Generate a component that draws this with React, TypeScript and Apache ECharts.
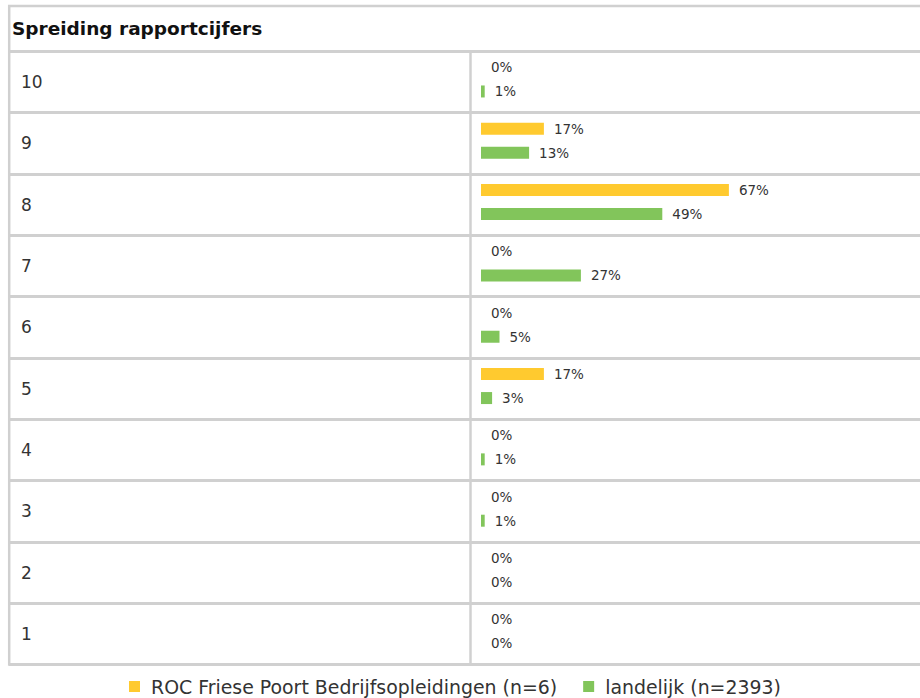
import React, { useEffect, useRef } from "react";
import * as echarts from "echarts";

const categories = ["10", "9", "8", "7", "6", "5", "4", "3", "2", "1"];
const rocValues = [0, 17, 67, 0, 0, 17, 0, 0, 0, 0];
const landelijkValues = [1, 13, 49, 27, 5, 3, 1, 1, 0, 0];
const seriesNames = ["ROC Friese Poort Bedrijfsopleidingen (n=6)", "landelijk (n=2393)"];
const title = "Spreiding rapportcijfers";

const FONT = "DejaVu Sans";
const LINE = "#d0d0d0";

export default function App() {
  const ref = useRef<HTMLDivElement>(null);
  useEffect(() => {
    if (!ref.current) return;
    const chart = echarts.init(ref.current, null, { renderer: "svg" });
    const label = {
      show: true,
      position: "right",
      distance: 10,
      formatter: "{c}%",
      fontFamily: FONT,
      fontSize: 13.5,
      color: "#333",
    };
    chart.setOption({
      animation: false,
      backgroundColor: "#fff",
      textStyle: { fontFamily: FONT },
      legend: {
        data: seriesNames,
        left: 129,
        top: 677,
        padding: 0,
        itemWidth: 11,
        itemHeight: 11,
        itemGap: 26,
        icon: "rect",
        textStyle: {
          fontFamily: FONT,
          fontSize: 18.9,
          lineHeight: 19,
          color: "#333",
          padding: [0, 0, 0, 6],
        },
      },
      grid: [
        { left: 9, right: 0, top: 51.3, bottom: 33.5 },
        { left: 481, width: 370, top: 48.8, bottom: 36 },
      ],
      xAxis: [
        { gridIndex: 0, type: "value", min: 0, max: 1, show: false },
        { gridIndex: 1, type: "value", min: 0, max: 100, show: false },
      ],
      yAxis: [
        {
          gridIndex: 0,
          type: "category",
          data: categories,
          inverse: true,
          axisLine: { show: false },
          axisTick: { show: false },
          splitLine: { show: true, lineStyle: { color: LINE, width: 3 } },
          axisLabel: {
            inside: true,
            margin: 12,
            fontFamily: FONT,
            fontSize: 17,
            color: "#333",
            padding: [0, 0, 4, 0],
          },
        },
        {
          gridIndex: 1,
          type: "category",
          data: categories,
          inverse: true,
          show: false,
        },
      ],
      series: [
        {
          name: seriesNames[0],
          type: "bar",
          xAxisIndex: 1,
          yAxisIndex: 1,
          data: rocValues,
          barWidth: 12,
          barGap: "100%",
          itemStyle: { color: "#ffca2f" },
          label,
        },
        {
          name: seriesNames[1],
          type: "bar",
          xAxisIndex: 1,
          yAxisIndex: 1,
          data: landelijkValues,
          barWidth: 12,
          barGap: "100%",
          itemStyle: { color: "#82c55b" },
          label,
        },
      ],
      graphic: [
        { type: "line", shape: { x1: 8, y1: 6, x2: 920, y2: 6 }, style: { stroke: LINE, lineWidth: 2.5 } },
        { type: "line", shape: { x1: 9.2, y1: 5, x2: 9.2, y2: 665.8 }, style: { stroke: LINE, lineWidth: 2.5 } },
        { type: "line", shape: { x1: 470.5, y1: 51.3, x2: 470.5, y2: 664.5 }, style: { stroke: LINE, lineWidth: 2.5 } },
        {
          type: "text",
          x: 12,
          y: 28,
          style: {
            text: title,
            fontFamily: FONT,
            fontWeight: "bold",
            fontSize: 18.5,
            fill: "#111",
            verticalAlign: "middle",
          },
        },
      ],
    });
    return () => chart.dispose();
  }, []);
  return (
    <div
      ref={ref}
      style={{ position: "fixed", left: 0, top: 0, width: 920, height: 698 }}
    />
  );
}
